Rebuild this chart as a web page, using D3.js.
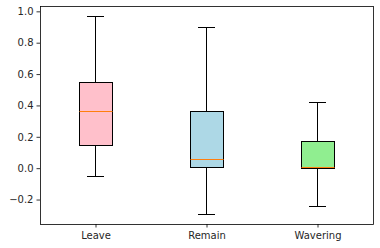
<!DOCTYPE html>
<html lang="en">
<head>
<meta charset="UTF-8">
<script src="https://d3js.org/d3.v7.min.js"></script>
<style>
  body { margin: 0; background: #fff; }
  text { font-family: "DejaVu Sans", sans-serif; font-size: 10px; fill: #262626; }
</style>
</head>
<body>
<div id="chart"></div>
<script>
// box stats
const groups = ["Leave", "Remain", "Wavering"];
const whiskerLow = [-0.05, -0.293, -0.247];
const q1 = [0.145, 0.002, 0.0];
const median = [0.364, 0.056, 0.003];
const q3 = [0.547, 0.362, 0.172];
const whiskerHigh = [0.97, 0.898, 0.42];
const boxColors = ["pink", "lightblue", "lightgreen"];
const yTicks = [-0.2, 0.0, 0.2, 0.4, 0.6, 0.8, 1.0];

const W = 380, H = 248;
const margin = { top: 6, right: 7, bottom: 24, left: 40 };

const svg = d3.select("#chart").append("svg")
  .attr("width", W).attr("height", H);

const x = d3.scaleLinear().domain([0.5, 3.5]).range([margin.left, W - margin.right]);
const y = d3.scaleLinear().domain([-0.356, 1.034]).range([H - margin.bottom, margin.top]);

// snap to pixel centres so 1px strokes stay crisp
const px = v => Math.round(v - 0.5) + 0.5;

const data = groups.map((g, i) => ({
  name: g, pos: i + 1, lo: whiskerLow[i], q1: q1[i], med: median[i],
  q3: q3[i], hi: whiskerHigh[i], color: boxColors[i]
}));

const boxW = Math.round(x(1.15) - x(0.85));
const capW = Math.round(boxW / 2);

const g = svg.append("g");
const box = g.selectAll(".box").data(data).join("g").attr("class", "box");

// whiskers
box.append("line")
  .attr("x1", d => px(x(d.pos))).attr("x2", d => px(x(d.pos)))
  .attr("y1", d => px(y(d.q3))).attr("y2", d => px(y(d.hi)))
  .attr("stroke", "#000").attr("stroke-width", 1);
box.append("line")
  .attr("x1", d => px(x(d.pos))).attr("x2", d => px(x(d.pos)))
  .attr("y1", d => px(y(d.q1))).attr("y2", d => px(y(d.lo)))
  .attr("stroke", "#000").attr("stroke-width", 1);
// caps
["hi", "lo"].forEach(k => {
  box.append("line")
    .attr("x1", d => px(x(d.pos)) - capW / 2).attr("x2", d => px(x(d.pos)) + capW / 2)
    .attr("y1", d => px(y(d[k]))).attr("y2", d => px(y(d[k])))
    .attr("stroke", "#000").attr("stroke-width", 1);
});
// boxes
box.append("rect")
  .attr("x", d => px(x(d.pos) - boxW / 2)).attr("width", boxW)
  .attr("y", d => px(y(d.q3))).attr("height", d => px(y(d.q1)) - px(y(d.q3)))
  .attr("fill", d => d.color).attr("stroke", "#000").attr("stroke-width", 1);
// medians
box.append("line")
  .attr("x1", d => px(x(d.pos) - boxW / 2)).attr("x2", d => px(x(d.pos) - boxW / 2) + boxW)
  .attr("y1", d => px(y(d.med))).attr("y2", d => px(y(d.med)))
  .attr("stroke", "#ff7f0e").attr("stroke-width", 1);

// axes
const yAxis = svg.append("g")
  .attr("transform", `translate(${margin.left},0)`)
  .call(d3.axisLeft(y).tickValues(yTicks).tickSize(3.5).tickPadding(3)
    .tickFormat(d => d3.format(".1f")(d).replace("-", "\u2212")));
const xAxis = svg.append("g")
  .attr("transform", `translate(0,${H - margin.bottom})`)
  .call(d3.axisBottom(x).tickValues([1, 2, 3]).tickSize(3.5).tickPadding(4.5)
    .tickFormat(d => groups[d - 1]));
[xAxis, yAxis].forEach(a => {
  a.select(".domain").remove();
  a.selectAll("line").attr("stroke", "#000").attr("stroke-width", 0.8);
  a.selectAll("text").attr("fill", "#262626").style("font-size", "10px");
});

// frame
svg.append("rect")
  .attr("x", margin.left + 0.5).attr("y", margin.top + 0.5)
  .attr("width", W - margin.left - margin.right)
  .attr("height", H - margin.top - margin.bottom)
  .attr("fill", "none").attr("stroke", "#000").attr("stroke-width", 0.8);
</script>
</body>
</html>
